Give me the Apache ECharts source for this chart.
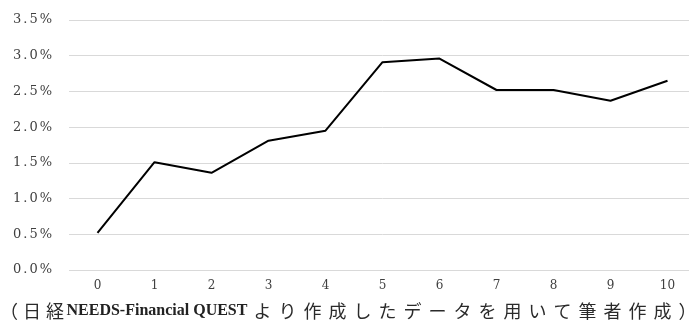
<!DOCTYPE html>
<html>
<head>
<meta charset="utf-8">
<script src="https://cdn.jsdelivr.net/npm/echarts@6/dist/echarts.min.js"></script>
<style>
  html, body { margin: 0; padding: 0; background: #fff; overflow: hidden; }
  /* the plot runs slightly past the right edge of the window */
  #chart { width: 697px; height: 324px; }
</style>
</head>
<body>
<div id="chart"></div>
<script>
// Years elapsed (x axis categories)
const categories = ['0', '1', '2', '3', '4', '5', '6', '7', '8', '9', '10'];
// Rate in percent for each year
const rates = [0.52, 1.51, 1.36, 1.81, 1.95, 2.91, 2.96, 2.52, 2.52, 2.37, 2.65];
// Source note shown under the axis
const noteOpen = '（';
const noteJa1 = '日経';
const noteEn = 'NEEDS-Financial QUEST';
const noteJa2 = 'より作成したデータを用いて筆者作成）';

// Wrap every character in its own rich segment so the spacing can be widened
const spaced = (s, style) => Array.from(s).map(ch => '{' + style + '|' + ch + '}').join('');

const chart = echarts.init(document.getElementById('chart'), null, { renderer: 'canvas' });

const labelFont = 'DejaVu Serif';
const cjkFont = 'Noto Sans CJK JP';

chart.setOption({
  animation: false,
  backgroundColor: '#ffffff',
  grid: { left: 69, right: 1, top: 20, bottom: 54, containLabel: false },
  xAxis: {
    type: 'category',
    data: categories,
    boundaryGap: true,
    axisLine: { show: false },
    axisTick: { show: false },
    axisLabel: {
      color: '#404040',
      fontFamily: labelFont,
      fontSize: 12,
      margin: 10
    }
  },
  yAxis: {
    type: 'value',
    min: 0,
    max: 3.5,
    interval: 0.5,
    axisLine: { show: false },
    axisTick: { show: false },
    splitLine: { lineStyle: { color: '#d9d9d9', width: 1 } },
    axisLabel: {
      color: '#404040',
      margin: 16,
      formatter: v => spaced(v.toFixed(1) + '%', 'c'),
      rich: {
        c: { fontFamily: labelFont, fontSize: 13, color: '#404040', padding: [0, 1] }
      }
    }
  },
  title: {
    text: '{p|' + noteOpen + '}' + spaced(noteJa1, 'a') + '{l|' + noteEn + '}{s| }' + spaced(noteJa2, 'j'),
    left: 0,
    bottom: 4,
    padding: 0,
    textStyle: {
      rich: {
        p: { fontFamily: cjkFont, fontWeight: 'normal', fontSize: 18, color: '#2a2a2a', padding: [0, 2.5, 0, 0] },
        a: { fontFamily: cjkFont, fontWeight: 'normal', fontSize: 18, color: '#2a2a2a', padding: [0, 2.5] },
        j: { fontFamily: cjkFont, fontWeight: 'normal', fontSize: 18, color: '#2a2a2a', padding: [0, 3.5] },
        s: { fontFamily: 'Liberation Serif', fontSize: 10 },
        l: { fontFamily: 'Liberation Serif', fontWeight: 'bold', fontSize: 16, color: '#222' }
      }
    }
  },
  series: [{
    type: 'line',
    data: rates,
    showSymbol: false,
    symbol: 'none',
    lineStyle: { color: '#000000', width: 2 }
  }]
});
</script>
</body>
</html>
